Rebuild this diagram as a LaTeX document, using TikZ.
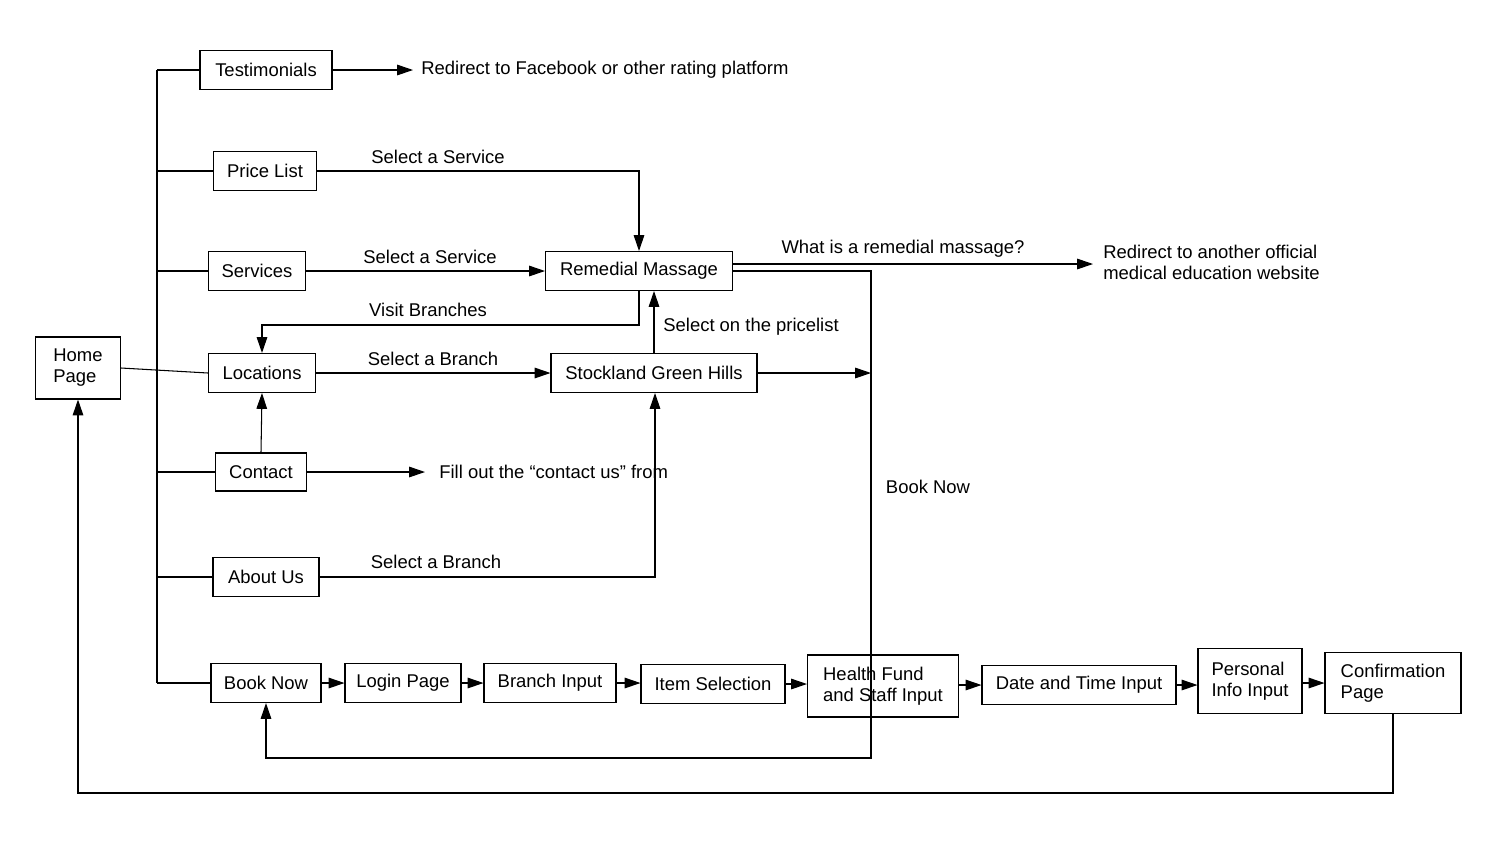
\documentclass[tikz,border=0pt]{standalone}
\usepackage{fontspec}
\setmainfont{Liberation Sans}
\usetikzlibrary{arrows.meta}
\begin{document}
\begin{tikzpicture}[x=0.02cm,y=-0.02cm,
  box/.style={draw,line width=0.6pt,inner sep=0pt,font=\fontsize{10.5}{12}\selectfont,align=left},
  lbl/.style={inner sep=0pt,font=\fontsize{10.5}{12}\selectfont,align=left},
  ln/.style={line width=0.6pt},
  ar/.style={line width=0.6pt,-{Triangle[length=9pt,width=6pt]}}]
\useasboundingbox (0,0) rectangle (1500,843);
\newcommand\bx[6]{\node[box,minimum width=#4*0.02cm,minimum height=#5*0.02cm] (#1) at (#2,#3) {#6};}
\bx{home}{78}{368}{85}{62}{Home\\Page}
\bx{test}{266}{70}{132}{39}{Testimonials}
\bx{price}{265}{171}{103}{39}{Price List}
\bx{serv}{257}{271}{97}{39}{Services}
\bx{rem}{639}{271}{187}{39}{Remedial Massage}
\bx{loc}{262}{373}{107}{39}{Locations}
\bx{stock}{654}{373}{206}{39}{Stockland Green Hills}
\bx{cont}{261}{472}{91}{38}{Contact}
\bx{about}{266}{577}{106}{39}{About Us}
\bx{book}{266}{683}{110}{39}{Book Now}
\bx{login}{403}{683}{116}{39}{Login Page}
\bx{branch}{550}{683}{132}{39}{Branch Input}
\bx{item}{713}{684}{144}{39}{Item Selection}
\bx{health}{883}{686}{151}{62}{Health Fund\\and Staff Input}
\bx{date}{1079}{685}{194}{39}{Date and Time Input}
\bx{pers}{1250}{681}{104}{65}{Personal\\Info Input}
\bx{conf}{1393}{683}{136}{61}{Confirmation\\Page}
% coordinates
\coordinate (tTop) at (157,70);
\coordinate (tBot) at (157,683);
\coordinate (e1) at (413,70);
\coordinate (e2) at (425,472);
\coordinate (e3) at (871,373);
\coordinate (e4) at (1093,264);
% free texts
\node[lbl,anchor=west] (t1) at (421,70) {Redirect to Facebook or other rating platform};
\node[lbl,anchor=west] (t2) at (439,472) {Fill out the “contact us” from};
\node[lbl,anchor=west] (t3) at (1103,262) {Redirect to another official\\medical education website};
% trunk
\draw[ln] (tTop) -- (tBot);
\draw[ln] (home.east) -- (loc.west);
\foreach \n in {test,price,serv,cont,about,book} \draw[ln] (157,0 |- \n.west) -- (\n.west);
% arrows
\draw[ar] (test.east) -- (e1);
\draw[ar] (price.east) -- (639,171) -- (rem.north);
\node[lbl] at (438,157) {Select a Service};
\draw[ar] (serv.east) -- (rem.west);
\node[lbl] at (430,257) {Select a Service};
\draw[ar] (rem.south) -- (639,325) -- (262,325) -- (loc.north);
\node[lbl] at (428,310) {Visit Branches};
\draw[ar] (loc.east) -- (stock.west);
\node[lbl] at (433,359) {Select a Branch};
\draw[ar] (stock.north) -- (654,291);
\node[lbl,anchor=west] at (663,327) {Select on the pricelist};
\draw[ar] (stock.east) -- (e3);
\draw[ar] (733,264) -- (e4);
\node[lbl] at (903,249) {What is a remedial massage?};
\draw[ar] (733,271) -- (871,271) -- (871,758) -- (266,758) -- (book.south);
\node[lbl] at (928,487) {Book Now};
\draw[ar] (cont.north) -- (262,393);
\draw[ar] (cont.east) -- (e2);
\draw[ar] (about.east) -- (655,577) -- (655,393);
\node[lbl] at (436,562) {Select a Branch};
\draw[ar] (book.east) -- (login.west);
\draw[ar] (login.east) -- (branch.west);
\draw[ar] (branch.east) -- (item.west |- branch.east);
\draw[ar] (item.east) -- (health.west |- item.east);
\draw[ar] (health.east |- date.west) -- (date.west);
\draw[ar] (date.east) -- (pers.west |- date.east);
\draw[ar] (pers.east |- conf.west) -- (conf.west);
\draw[ar] (conf.south) -- (1393,793) -- (78,793) -- (home.south);
\end{tikzpicture}
\end{document}
